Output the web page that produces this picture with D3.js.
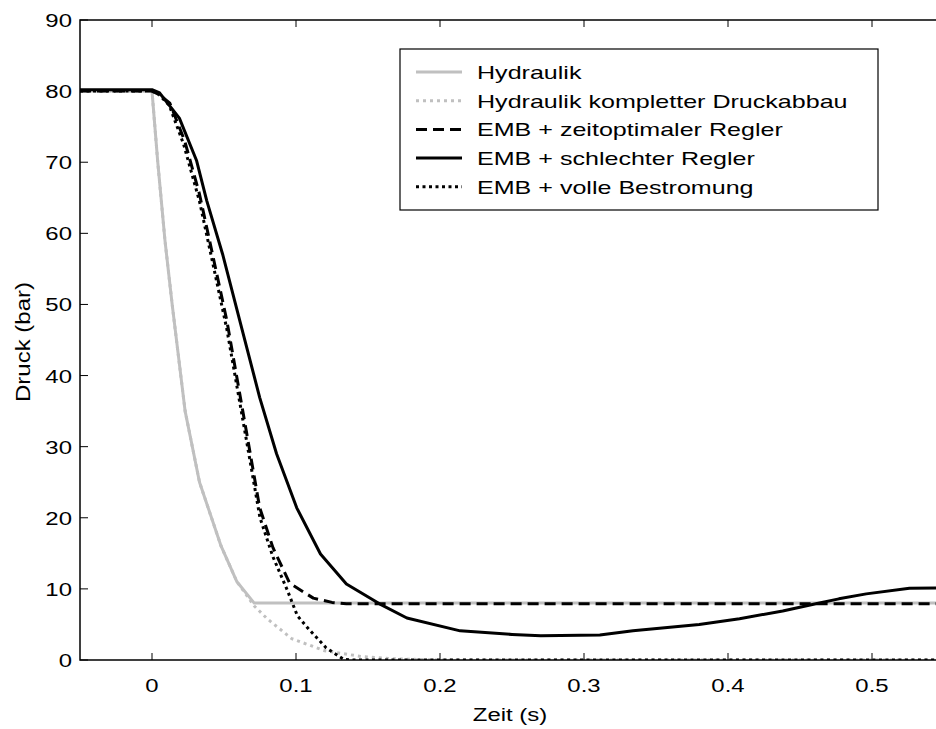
<!DOCTYPE html>
<html>
<head>
<meta charset="utf-8">
<script src="https://cdn.jsdelivr.net/npm/d3@7"></script>
<style>
  body { margin: 0; background: #fff; }
  text { font-family: "Liberation Sans", Arial, sans-serif; fill: #000; }
</style>
</head>
<body>
<svg id="chart" width="936" height="729"></svg>
<script>
// series data (t in s, p in bar)
const hydTime = [-0.05, 0, 0.004, 0.009, 0.014, 0.023, 0.033, 0.048, 0.059, 0.071, 0.2, 0.4, 0.6];
const hydPress = [80, 80, 70, 59, 50, 35, 25, 16, 11, 8, 8, 8, 8];

const hydFullTime = [-0.05, 0, 0.004, 0.009, 0.014, 0.023, 0.033, 0.048, 0.059, 0.071, 0.08, 0.097, 0.12, 0.145, 0.17, 0.2, 0.4, 0.6];
const hydFullPress = [80, 80, 70, 59, 50, 35, 25, 16, 11, 7.6, 5.8, 3.0, 1.3, 0.5, 0.15, 0, 0, 0];

const optTime = [-0.05, 0, 0.005, 0.0124, 0.0227, 0.033, 0.042, 0.052, 0.0655, 0.0748, 0.084, 0.0956, 0.112, 0.125, 0.135, 0.2, 0.4, 0.6];
const optPress = [80, 80, 79.5, 78.3, 73, 65.5, 57.1, 47.7, 32.2, 21.4, 15.8, 10.8, 8.7, 8.1, 7.9, 7.9, 7.9, 7.9];

const badTime = [-0.05, 0, 0.005, 0.019, 0.031, 0.038, 0.049, 0.061, 0.0748, 0.0865, 0.1005, 0.117, 0.135, 0.158, 0.177, 0.214, 0.25, 0.27, 0.311, 0.334, 0.38, 0.408, 0.438, 0.461, 0.477, 0.496, 0.526, 0.6];
const badPress = [80.2, 80.2, 79.8, 76.2, 70.2, 64.6, 57.1, 47.7, 36.9, 29, 21.4, 14.9, 10.7, 7.9, 5.9, 4.1, 3.6, 3.4, 3.5, 4.1, 5.0, 5.8, 6.9, 7.9, 8.6, 9.3, 10.1, 10.2];

const fullTime = [-0.05, 0, 0.005, 0.012, 0.022, 0.033, 0.042, 0.052, 0.0655, 0.075, 0.084, 0.094, 0.101, 0.109, 0.121, 0.133, 0.14, 0.4, 0.6];
const fullPress = [80, 80, 79.5, 78, 72.5, 64.5, 56, 46.5, 31, 20, 14.5, 9.8, 6.2, 4.3, 1.7, 0.1, 0, 0, 0];

const xTicks = [0, 0.1, 0.2, 0.3, 0.4, 0.5];
const yTicks = [0, 10, 20, 30, 40, 50, 60, 70, 80, 90];

const seriesNames = ["Hydraulik", "Hydraulik kompletter Druckabbau", "EMB + zeitoptimaler Regler", "EMB + schlechter Regler", "EMB + volle Bestromung"];
const seriesTimes = [hydTime, hydFullTime, optTime, badTime, fullTime];
const seriesPress = [hydPress, hydFullPress, optPress, badPress, fullPress];
const seriesColor = ["#c0c0c0", "#c0c0c0", "#000", "#000", "#000"];
const seriesDash = [null, "3,4", "11,6", null, "3,3.5"];

const svg = d3.select("#chart");
const pLeft = 80, pTop = 20, pBottom = 660, pRight = 944;

const x = d3.scaleLinear().domain([-0.05, 0.55]).range([pLeft, pRight]);
const y = d3.scaleLinear().domain([0, 90]).range([pBottom, pTop]);

svg.append("clipPath").attr("id", "plotclip")
  .append("rect").attr("x", pLeft).attr("y", pTop).attr("width", pRight - pLeft).attr("height", pBottom - pTop);

const line = d3.line().x(d => x(d[0])).y(d => y(d[1]));

const plot = svg.append("g").attr("clip-path", "url(#plotclip)");
seriesNames.forEach((name, i) => {
  const pts = seriesTimes[i].map((t, j) => [t, seriesPress[i][j]]);
  plot.append("path")
    .datum(pts)
    .attr("d", line)
    .attr("fill", "none")
    .attr("stroke", seriesColor[i])
    .attr("stroke-width", 3)
    .attr("stroke-linejoin", "round")
    .attr("stroke-dasharray", seriesDash[i]);
});

// box + inward ticks (matlab style)
const axisG = svg.append("g").attr("stroke", "#000").attr("stroke-width", 1.5).attr("fill", "none");
axisG.append("path").attr("d", `M${pRight},${pTop}H${pLeft}V${pBottom}H${pRight}`);
xTicks.forEach(t => {
  axisG.append("line").attr("x1", x(t)).attr("x2", x(t)).attr("y1", pBottom).attr("y2", pBottom - 7).attr("stroke-width", 1);
  axisG.append("line").attr("x1", x(t)).attr("x2", x(t)).attr("y1", pTop).attr("y2", pTop + 7).attr("stroke-width", 1);
});
yTicks.forEach(v => {
  axisG.append("line").attr("x1", pLeft).attr("x2", pLeft + 8).attr("y1", y(v)).attr("y2", y(v)).attr("stroke-width", 1);
});

const sx = 1.26;
function stretchedText(g, px, py, str, anchor) {
  return g.append("text")
    .attr("transform", `translate(${px},${py}) scale(${sx},1)`)
    .attr("text-anchor", anchor)
    .attr("font-size", 19)
    .text(str);
}

xTicks.forEach(t => stretchedText(svg, x(t), 692, d3.format("")(t), "middle"));
yTicks.forEach(v => stretchedText(svg, 72, y(v) + 7, v, "end"));

stretchedText(svg, 510, 721, "Zeit (s)", "middle");
svg.append("text")
  .attr("transform", `translate(30,342) rotate(-90) scale(1.2,1)`)
  .attr("text-anchor", "middle")
  .attr("font-size", 20)
  .text("Druck (bar)");

// legend
const legend = svg.append("g");
legend.append("rect")
  .attr("x", 400).attr("y", 49).attr("width", 478).attr("height", 161)
  .attr("fill", "#fff").attr("stroke", "#000").attr("stroke-width", 1.2);
seriesNames.forEach((name, i) => {
  const ly = 72 + i * 28.7;
  legend.append("line")
    .attr("x1", 416).attr("x2", 462).attr("y1", ly).attr("y2", ly)
    .attr("stroke", seriesColor[i]).attr("stroke-width", 3)
    .attr("stroke-dasharray", seriesDash[i]);
  legend.append("text")
    .attr("transform", `translate(477,${ly + 7}) scale(1.32,1)`)
    .attr("font-size", 19)
    .text(name);
});
</script>
</body>
</html>
